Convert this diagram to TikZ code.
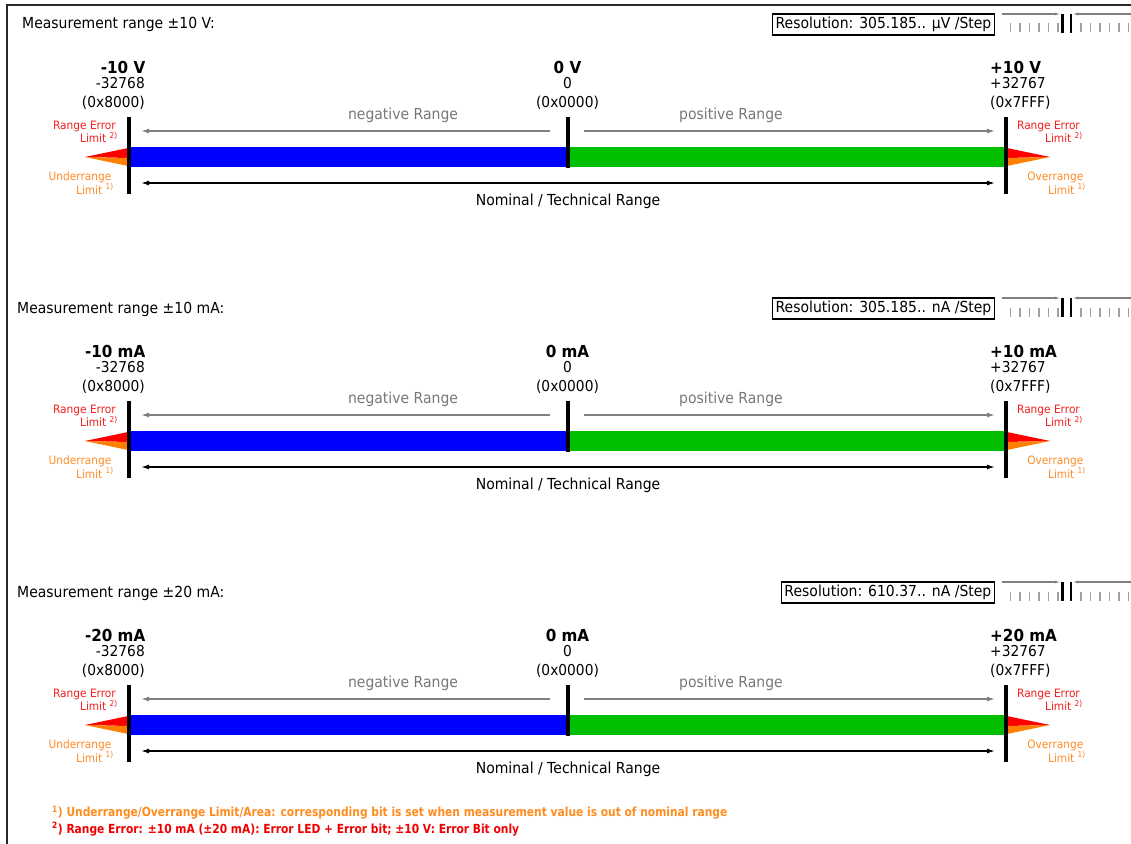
\documentclass[tikz,border=0pt]{standalone}
\usepackage{fontspec}
\setmainfont{DejaVu Sans}[FakeStretch=0.92]
\newfontfamily\fnfont{DejaVu Sans}[FakeStretch=0.855]
\usetikzlibrary{arrows.meta}
\definecolor{framec}{RGB}{40,40,40}
\definecolor{redtxt}{RGB}{245,30,30}
\definecolor{orgtxt}{RGB}{255,140,40}
\definecolor{trired}{RGB}{255,0,0}
\definecolor{triorg}{RGB}{255,128,0}
\definecolor{barblue}{RGB}{0,0,255}
\definecolor{bargreen}{RGB}{0,190,0}
\definecolor{grayline}{RGB}{128,128,128}
\definecolor{graytxt}{RGB}{120,120,120}
\definecolor{tickc}{RGB}{160,160,160}
\definecolor{fnorange}{RGB}{255,140,30}
\definecolor{fnred}{RGB}{240,0,0}
\tikzset{
  titletxt/.style={anchor=base west, inner sep=0, font=\fontsize{15.2}{18}\selectfont},
  resbox/.style={draw=black, line width=1.3pt, anchor=east, inner xsep=3pt, inner ysep=0pt,
    minimum height=21pt, font=\fontsize{15.2}{18}\selectfont},
  bigtxt/.style={inner sep=0, font=\bfseries\fontsize{16.5}{19}\selectfont},
  numtxt/.style={inner sep=0, font=\fontsize{15}{18}\selectfont},
  smalltxt/.style={inner sep=0, font=\fontsize{11.5}{13}\selectfont, anchor=base east},
  rangetxt/.style={inner sep=0, anchor=base, font=\fontsize{15.2}{18}\selectfont},
  grayarrow/.style={draw=grayline, line width=1.4pt, -{Latex[length=8pt,width=5pt]}},
  nomarrow/.style={draw=black, line width=1.4pt, {Latex[length=8pt,width=5pt]}-{Latex[length=8pt,width=5pt]}},
  vbar/.style={draw=black, line width=4pt},
  iconline/.style={draw=grayline, line width=1.3pt, -{Latex[length=5pt,width=3pt]}},
  ticksty/.style={draw=tickc, line width=1.3pt},
  fntxt/.style={inner sep=0, anchor=base west, font=\fnfont\bfseries\fontsize{12.5}{14}\selectfont}
}
% #1 prefix, #2 y offset, #3 title x, #4 title, #5 resolution, #6 minus, #7 zero, #8 plus
\newcommand\rangepanel[8]{%
\begin{scope}[shift={(0,#2)}]
  \node[titletxt] (#1title) at (#3,29) {#4};
  \node[resbox] (#1res) at (995,24.5) {#5};
  % icon
  \coordinate (#1ia) at (1002,14); \coordinate (#1ib) at (1060,14);
  \draw[iconline] (#1ia) -- (#1ib);
  \coordinate (#1ic) at (1131,14); \coordinate (#1id) at (1073,14);
  \draw[iconline] (#1ic) -- (#1id);
  \coordinate (#1ie) at (1062.5,14); \coordinate (#1if) at (1062.5,33);
  \draw[black, line width=3pt] (#1ie) -- (#1if);
  \coordinate (#1ig) at (1071,14); \coordinate (#1ih) at (1071,33);
  \draw[black, line width=2pt] (#1ig) -- (#1ih);
  \foreach \k in {0,...,5} {
    \draw[ticksty] ({1010.5+9.5*\k},23.5) -- ++(0,9);
    \draw[ticksty] ({1081+9.5*\k},23.5) -- ++(0,9);
  }
  % bars
  \fill[barblue] (130,147) rectangle (568,166.5);
  \fill[bargreen] (568,147) rectangle (1006,166.5);
  % limit triangles
  \fill[trired] (85,157) -- (128,148) -- (128,158) -- cycle;
  \fill[triorg] (85,157) -- (128,158) -- (128,166) -- cycle;
  \fill[trired] (1050,157) -- (1007,148) -- (1007,158) -- cycle;
  \fill[triorg] (1050,157) -- (1007,158) -- (1007,166) -- cycle;
  % vertical markers
  \coordinate (#1Lt) at (129,117); \coordinate (#1Lb) at (129,194);
  \draw[vbar] (#1Lt) -- (#1Lb);
  \coordinate (#1Ct) at (568,117); \coordinate (#1Cb) at (568,168);
  \draw[vbar] (#1Ct) -- (#1Cb);
  \coordinate (#1Rt) at (1006,117); \coordinate (#1Rb) at (1006,194);
  \draw[vbar] (#1Rt) -- (#1Rb);
  % value labels
  \node[bigtxt, anchor=base east] (#1mv) at (145.5,73.5) {#6};
  \node[numtxt, anchor=base east] (#1mn) at (145,88.5) {-32768};
  \node[numtxt, anchor=base east] (#1mh) at (145,107.5) {(0x8000)};
  \node[bigtxt, anchor=base] (#1zv) at (567.5,73.5) {#7};
  \node[numtxt, anchor=base] (#1zn) at (567.5,88.5) {0};
  \node[numtxt, anchor=base] (#1zh) at (567.5,107.5) {(0x0000)};
  \node[bigtxt, anchor=base west] (#1pv) at (990,73.5) {#8};
  \node[numtxt, anchor=base west] (#1pn) at (990,88.5) {+32767};
  \node[numtxt, anchor=base west] (#1ph) at (990,107.5) {(0x7FFF)};
  % limit labels
  \node[smalltxt, text=redtxt] (#1le) at (116,129) {Range Error};
  \node[smalltxt, text=redtxt] (#1lel) at (118,142.5) {Limit \textsuperscript{2)}};
  \node[smalltxt, text=orgtxt] (#1lu) at (111.5,180) {Underrange};
  \node[smalltxt, text=orgtxt] (#1lul) at (114,194) {Limit \textsuperscript{1)}};
  \node[smalltxt, text=redtxt] (#1re) at (1080,129) {Range Error};
  \node[smalltxt, text=redtxt] (#1rel) at (1083,142.5) {Limit \textsuperscript{2)}};
  \node[smalltxt, text=orgtxt] (#1ro) at (1083.5,180) {Overrange};
  \node[smalltxt, text=orgtxt] (#1rol) at (1086,194) {Limit \textsuperscript{1)}};
  % range arrows
  \coordinate (#1na) at (550,131); \coordinate (#1nb) at (141,131);
  \draw[grayarrow] (#1na) -- (#1nb);
  \node[rangetxt, text=graytxt] (#1nt) at (403,119.5) {negative Range};
  \coordinate (#1pa) at (584,131); \coordinate (#1pb) at (995,131);
  \draw[grayarrow] (#1pa) -- (#1pb);
  \node[rangetxt, text=graytxt] (#1pt) at (731,119.5) {positive Range};
  \coordinate (#1ta) at (141,183); \coordinate (#1tb) at (995,183);
  \draw[nomarrow] (#1ta) -- (#1tb);
  \node[rangetxt] (#1tt) at (568,205) {Nominal / Technical Range};
\end{scope}}
\begin{document}
\begin{tikzpicture}[x=1pt,y=-1pt]
  \useasboundingbox (0,0) rectangle (1131,843);
  \fill[white] (0,0) rectangle (1131,843);
  \clip (0,0) rectangle (1131,843);
  \draw[framec, line width=2pt] (7,5) rectangle (1150,860);
  \rangepanel{a}{0}{22}{Measurement range ±10 V:}{Resolution: 305.185.. µV /Step}{-10 V}{0 V}{+10 V}
  \rangepanel{b}{284}{17}{Measurement range ±10 mA:}{Resolution: 305.185.. nA /Step}{-10 mA}{0 mA}{+10 mA}
  \rangepanel{c}{568}{17}{Measurement range ±20 mA:}{Resolution: 610.37.. nA /Step}{-20 mA}{0 mA}{+20 mA}
  \node[fntxt, text=fnorange] (fn1) at (52,816.5) {\textsuperscript{1}) Underrange/Overrange Limit/Area: corresponding bit is set when measurement value is out of nominal range};
  \node[fntxt, text=fnred] (fn2) at (52,833) {\textsuperscript{2}) Range Error: ±10 mA (±20 mA): Error LED + Error bit; ±10 V: Error Bit only};
\end{tikzpicture}
\end{document}
